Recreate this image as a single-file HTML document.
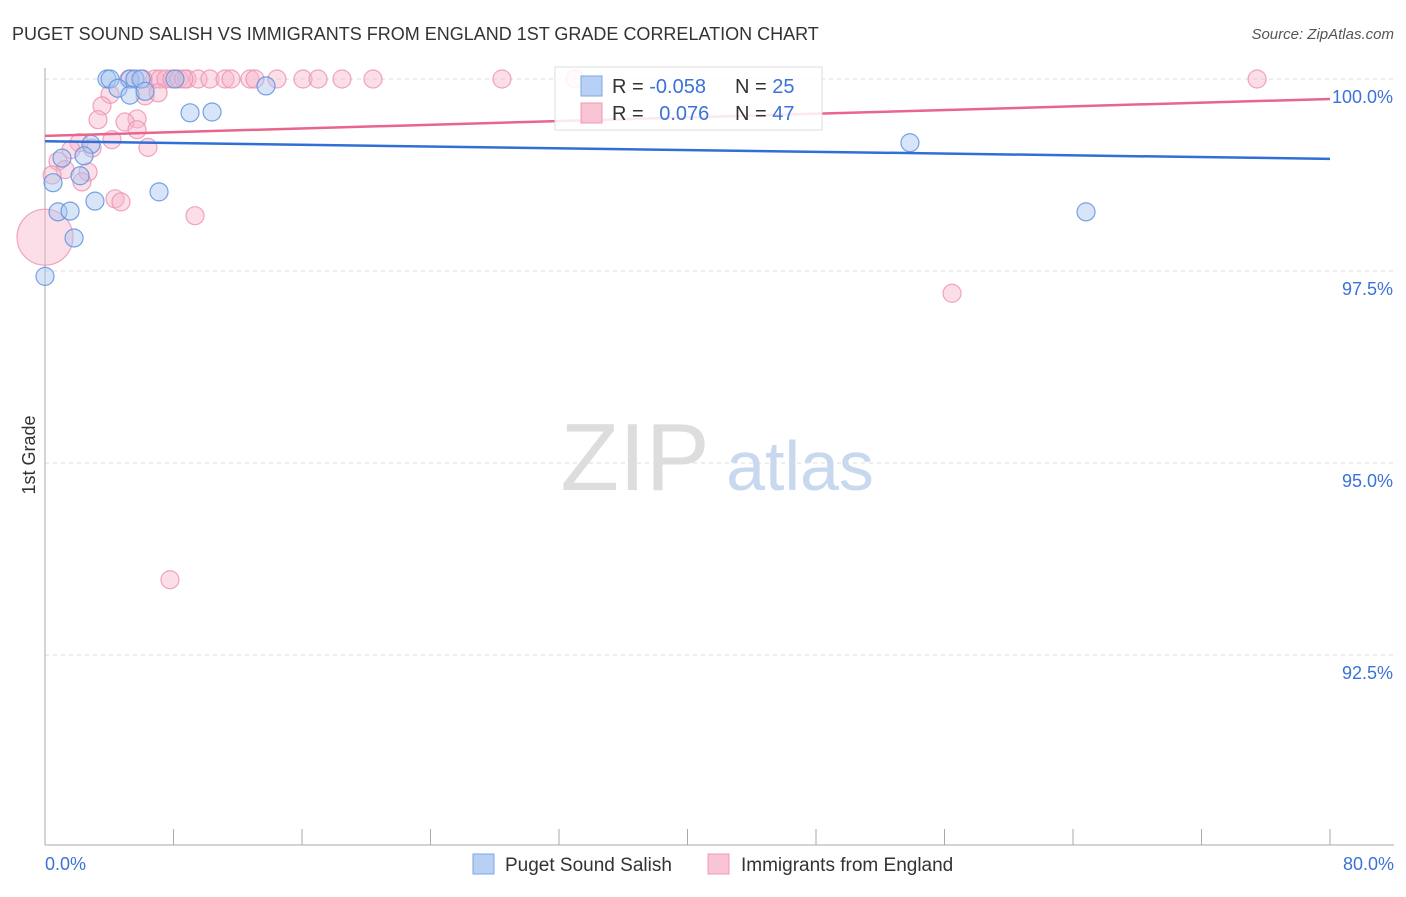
<!DOCTYPE html>
<html><head><meta charset="utf-8"><style>
body{margin:0;background:#fff;font-family:"Liberation Sans",sans-serif;}
svg text{font-family:"Liberation Sans",sans-serif;}
</style></head><body>
<svg width="1406" height="892" viewBox="0 0 1406 892">
<text x="12" y="40" font-size="18" fill="#333">PUGET SOUND SALISH VS IMMIGRANTS FROM ENGLAND 1ST GRADE CORRELATION CHART</text>
<text x="1394" y="39" font-size="15" fill="#555" font-style="italic" text-anchor="end">Source: ZipAtlas.com</text>
<g id="grid"></g>
<text x="635" y="490" font-size="96" fill="#ddd" font-family="Liberation Serif" text-anchor="middle">ZIP</text>
<text x="800" y="490" font-size="70" fill="#c8d8ef" text-anchor="middle">atlas</text>
<line x1="45" y1="68" x2="45" y2="845" stroke="#aaa"/>
<line x1="45" y1="845" x2="1394" y2="845" stroke="#aaa"/>
<text x="35" y="455" font-size="18" fill="#333" transform="rotate(-90 35 455)" text-anchor="middle">1st Grade</text>
<text x="45" y="870" font-size="18" fill="#3b72d9">0.0%</text>
<text x="1394" y="870" font-size="18" fill="#3b72d9" text-anchor="end">80.0%</text>
<g id="points"></g>
<g id="trends"></g>
<g>
<rect x="555" y="67" width="267" height="63" fill="#fff" fill-opacity="0.85" stroke="#ddd"/>
<rect x="581" y="76" width="21" height="20" fill="#b8d0f4" stroke="#7aa6e6"/>
<rect x="581" y="103" width="21" height="20" fill="#f8c4d4" stroke="#f09ab6"/>
<text x="612" y="93" font-size="20" fill="#333">R = <tspan fill="#3b72d9">-0.058</tspan></text>
<text x="735" y="93" font-size="20" fill="#333">N = <tspan fill="#3b72d9">25</tspan></text>
<text x="612" y="120" font-size="20" fill="#333">R = <tspan fill="#3b72d9" dx="10">0.076</tspan></text>
<text x="735" y="120" font-size="20" fill="#333">N = <tspan fill="#3b72d9">47</tspan></text>
</g>
<g>
<rect x="473" y="854" width="21" height="20" fill="#b8d0f4" stroke="#7aa6e6"/>
<text x="505" y="871" font-size="19" fill="#333">Puget Sound Salish</text>
<rect x="708" y="854" width="21" height="20" fill="#f8c4d4" stroke="#f09ab6"/>
<text x="741" y="871" font-size="19" fill="#333">Immigrants from England</text>
</g>
</svg>
<script>
const yTicks=[100,97.5,95,92.5];
const yTickLabels=["100.0%","97.5%","95.0%","92.5%"];
const xTicks=[0,8,16,24,32,40,48,56,64,72,80];
const blueX=[3.86,4.05,5.29,5.60,5.98,8.09,4.54,5.29,6.23,9.03,10.40,13.76,2.86,2.43,1.06,2.18,0.50,3.11,7.10,0.81,1.56,1.81,0,53.85,64.81];
const blueY=[100,100,100,100,100,100,99.88,99.79,99.84,99.56,99.57,99.91,99.15,99.00,98.97,98.74,98.65,98.41,98.53,98.27,98.28,97.93,97.43,99.17,98.27];
const pinkX=[0,5.23,6.85,7.16,7.53,7.91,8.34,8.84,9.53,10.27,11.21,11.58,12.76,13.07,14.44,16.06,17.00,18.49,20.42,28.45,33.00,75.46,4.05,3.55,3.30,6.23,7.04,5.73,4.98,5.73,4.17,2.93,2.12,1.62,0.81,1.25,2.68,2.30,0.44,6.41,4.36,4.73,9.34,7.78,56.47,6.10,8.65];
const pinkY=[97.94,100,100,100,100,100,100,100,100,100,100,100,100,100,100,100,100,100,100,100,100,100,99.80,99.65,99.47,99.78,99.82,99.48,99.44,99.34,99.21,99.10,99.17,99.08,98.93,98.82,98.79,98.66,98.75,99.11,98.44,98.40,98.22,93.48,97.21,100,100];
const blueTrend=[99.19,98.96];
const pinkTrend=[99.26,99.74];
const NS="http://www.w3.org/2000/svg";
const sx=v=>45+v/80*1285;
const sy=v=>79+(100-v)*76.8;
function mk(t,a,p){const e=document.createElementNS(NS,t);for(const k in a)e.setAttribute(k,a[k]);p.appendChild(e);return e;}
const grid=document.getElementById('grid');
yTicks.forEach((t,i)=>{
 const l=mk('line',{x1:45,x2:1394,y1:sy(t),y2:sy(t),stroke:'#ddd','stroke-dasharray':'4,4'},grid);
 
 
 const tx=mk('text',{x:1393,y:sy(t)+24,'font-size':18,fill:'#3b72d9','text-anchor':'end'},grid);
 tx.textContent=yTickLabels[i];
 
 
});
xTicks.forEach(t=>{
 const l=mk('line',{x1:sx(t),x2:sx(t),y1:829,y2:845,stroke:'#aaa'},grid);
 
 
});
const pts=document.getElementById('points');
pinkX.forEach((x,i)=>{
 const c=mk('circle',{cx:sx(x),cy:sy(pinkY[i]),r:(i===0?28:9),fill:'#f7b6cb','fill-opacity':0.45,stroke:'#ec8fb0','stroke-opacity':0.8,'stroke-width':1.2},pts);
 
 
});
blueX.forEach((x,i)=>{
 const c=mk('circle',{cx:sx(x),cy:sy(blueY[i]),r:9,fill:'#a9c6f0','fill-opacity':0.45,stroke:'#5f92de','stroke-opacity':0.85,'stroke-width':1.2},pts);
 
 
});
const tr=document.getElementById('trends');
const bl=mk('line',{x1:sx(0),x2:sx(80),y1:sy(blueTrend[0]),y2:sy(blueTrend[1]),stroke:'#2f6fd6','stroke-width':2.5},tr);


const pl=mk('line',{x1:sx(0),x2:sx(80),y1:sy(pinkTrend[0]),y2:sy(pinkTrend[1]),stroke:'#e8658e','stroke-width':2.5},tr);


</script>
</body></html>
